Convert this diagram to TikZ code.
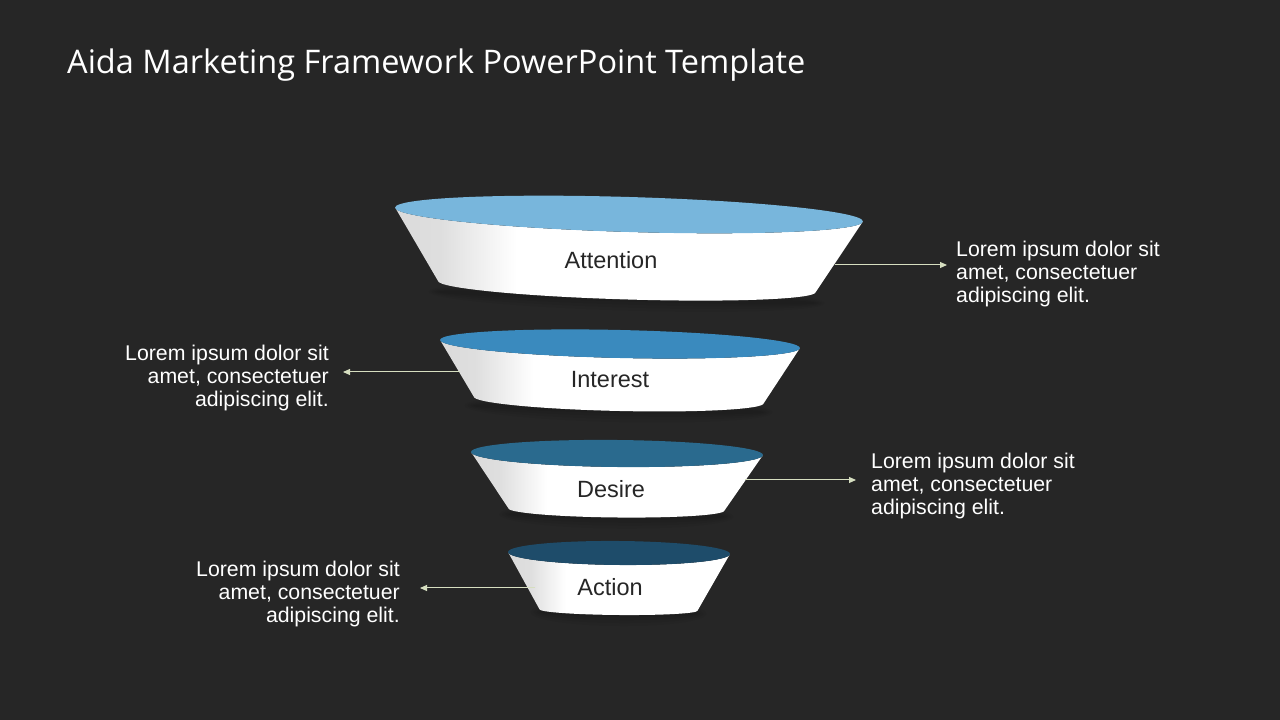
\documentclass[tikz,border=0pt]{standalone}
\usepackage{fontspec}
\setmainfont{Liberation Sans}
\newfontfamily\titlefont[Ligatures=NoCommon]{Open Sans}
\usetikzlibrary{arrows.meta}
\definecolor{bg}{RGB}{38,38,38}
\definecolor{arrowc}{RGB}{214,222,192}
\definecolor{labelc}{RGB}{38,38,38}
\definecolor{topA}{RGB}{120,182,220}
\definecolor{topI}{RGB}{58,138,190}
\definecolor{topD}{RGB}{42,106,142}
\definecolor{topC}{RGB}{30,76,106}
\definecolor{bodygray}{RGB}{196,196,196}
\pgfdeclarehorizontalshading{funnelbody}{100bp}{color(0bp)=(bodygray); color(30bp)=(bodygray!55!white); color(38bp)=(white); color(100bp)=(white)}
\tikzset{
  lorem/.style={text=white, font=\fontsize{21.3}{23}\selectfont, inner sep=0pt},
  flabel/.style={text=labelc, font=\fontsize{23.5}{26}\selectfont, inner sep=0pt},
  arr/.style={draw=arrowc, line width=1pt, -{Triangle[width=6pt,length=7pt]}},
  bodyfill/.style={shading=funnelbody},
}
% #1 name, #2 cx, #3 cy(up), #4 tilt, #5 R, #6 r, #7 b, #8 h, #9 s, top colour via \ftop
\newcommand{\funnelseg}[9]{%
  \begin{scope}[shift={(#2,#3)}, rotate=#4]
    \foreach \k in {0,3,6,9}{
      \fill[black, opacity=0.05] (0,-#8-#9+2) ellipse ({#7+\k} and {4+\k});
    }
    \path[bodyfill] (-#5,0) -- (-#7,-#8) arc[start angle=180, end angle=360, x radius=#7, y radius=#9]
       -- (#5,0) arc[start angle=360, end angle=180, x radius=#5, y radius=#6] -- cycle;
    \fill[\ftop] (0,0) ellipse (#5 and #6);
    \coordinate (#1-c) at (0,0);
  \end{scope}}
\begin{document}
\begin{tikzpicture}[x=1pt,y=1pt]
\fill[bg] (0,0) rectangle (1280,720);
\useasboundingbox (0,0) rectangle (1280,720);

\node[anchor=base west, inner sep=0pt, text=white, font=\titlefont\fontsize{32.5}{36}\selectfont] (title) at (67,646) {Aida Marketing Framework PowerPoint Template};

% funnel segments (y measured upward: 720 - pixel y)
\def\ftop{topA}\funnelseg{att}{629}{505.5}{-1.7}{234}{17.5}{189}{72}{13}
\def\ftop{topI}\funnelseg{int}{620}{376}{-1.3}{180}{14}{145}{56}{11}
\def\ftop{topD}\funnelseg{des}{617}{266.5}{-0.6}{146}{13.5}{108}{56}{8}
\def\ftop{topC}\funnelseg{act}{619}{167}{-0.5}{111}{12}{79}{57}{5}

\node[flabel] (latt) at (611,460) {Attention};
\node[flabel] (lint) at (610,340) {Interest};
\node[flabel] (ldes) at (611,231) {Desire};
\node[flabel] (lact) at (610,133) {Action};

% text blocks
\node[lorem, anchor=north west, align=left] (tatt) at (956,479) {Lorem ipsum dolor sit\\amet, consectetuer\\adipiscing elit.};
\node[lorem, anchor=north east, align=right] (tint) at (329,375) {Lorem ipsum dolor sit\\amet, consectetuer\\adipiscing elit.};
\node[lorem, anchor=north west, align=left] (tdes) at (871,267) {Lorem ipsum dolor sit\\amet, consectetuer\\adipiscing elit.};
\node[lorem, anchor=north east, align=right] (tact) at (400,159) {Lorem ipsum dolor sit\\amet, consectetuer\\adipiscing elit.};

% arrow start points on funnel edges
\coordinate (aatt) at (835,455);
\coordinate (aint) at (460,348);
\coordinate (ades) at (745,240);
\coordinate (aact) at (535,132);

\draw[arr] (aatt) -- ([xshift=-9pt]aatt -| tatt.west);
\draw[arr] (aint) -- ([xshift=14pt]aint -| tint.east);
\draw[arr] (ades) -- ([xshift=-15pt]ades -| tdes.west);
\draw[arr] (aact) -- ([xshift=20pt]aact -| tact.east);
\end{tikzpicture}
\end{document}
